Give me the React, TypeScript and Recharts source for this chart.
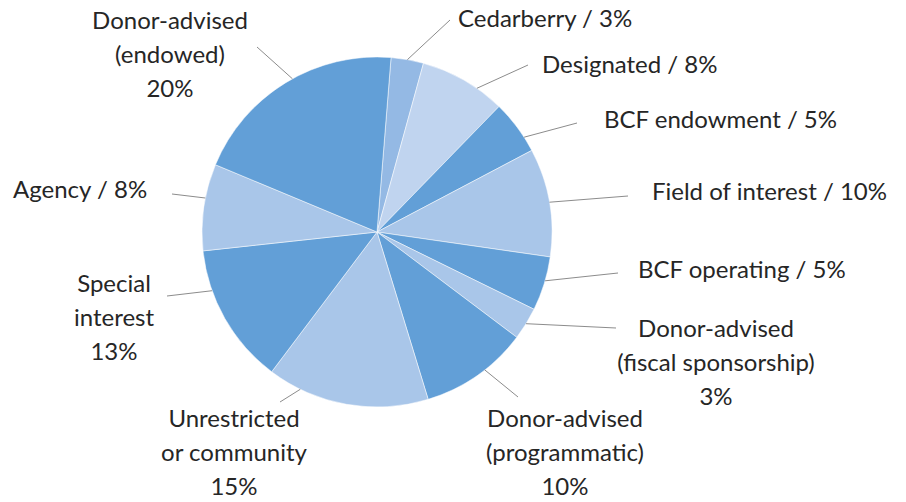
import { PieChart, Pie, Cell } from 'recharts'

const categories = [
  'Cedarberry',
  'Designated',
  'BCF endowment',
  'Field of interest',
  'BCF operating',
  'Donor-advised (fiscal sponsorship)',
  'Donor-advised (programmatic)',
  'Unrestricted or community',
  'Special interest',
  'Agency',
  'Donor-advised (endowed)',
]
const shares = [3, 8, 5, 10, 5, 3, 10, 15, 13, 8, 20]
const labelLines = [
  ['Cedarberry / 3%'],
  ['Designated / 8%'],
  ['BCF endowment / 5%'],
  ['Field of interest / 10%'],
  ['BCF operating / 5%'],
  ['Donor-advised', '(fiscal sponsorship)', '3%'],
  ['Donor-advised', '(programmatic)', '10%'],
  ['Unrestricted', 'or community', '15%'],
  ['Special', 'interest', '13%'],
  ['Agency / 8%'],
  ['Donor-advised', '(endowed)', '20%'],
]

const data = categories.map((name, i) => ({ name, value: shares[i] }))

const DARK = '#629fd7'
const LIGHT = '#a9c6e9'
const colors = ['#94b9e4', '#c0d4ef', DARK, LIGHT, DARK, LIGHT, DARK, LIGHT, DARK, LIGHT, DARK]

// label placement: text anchor x, first baseline y, anchor, leader end, rim shift (deg, clockwise)
const layout = [
  { x: 458, y: 27, anchor: 'start', lx: 450, ly: 20, da: 0 },
  { x: 542, y: 73, anchor: 'start', lx: 528, ly: 65, da: 5 },
  { x: 604, y: 128, anchor: 'start', lx: 577, ly: 123, da: 4 },
  { x: 652, y: 200, anchor: 'start', lx: 628, ly: 196, da: 0 },
  { x: 638, y: 278, anchor: 'start', lx: 618, ly: 273, da: -1 },
  { x: 716, y: 337, anchor: 'middle', lx: 616, ly: 328, da: 0 },
  { x: 565, y: 427, anchor: 'middle', lx: 518, ly: 397, da: -3 },
  { x: 234, y: 427, anchor: 'middle', lx: 280, ly: 402, da: 16 },
  { x: 114, y: 292, anchor: 'middle', lx: 167, ly: 296, da: 10 },
  { x: 13, y: 198, anchor: 'start', lx: 172, ly: 194, da: 3 },
  { x: 170, y: 29, anchor: 'middle', lx: 257, ly: 47, da: 2.5 },
]

const RAD = Math.PI / 180
const LINE_H = 34

function renderLabel(props: any) {
  const { cx, cy, midAngle, outerRadius, index } = props
  const l = layout[index]
  const a = (midAngle - l.da) * RAD
  const sx = cx + outerRadius * Math.cos(-a)
  const sy = cy + outerRadius * Math.sin(-a)
  return (
    <g key={`lbl-${index}`}>
      <line x1={sx} y1={sy} x2={l.lx} y2={l.ly} stroke="#8c8c8c" strokeWidth={1} />
      <text
        x={l.x}
        y={l.y}
        textAnchor={l.anchor as any}
        fill="#262626"
        fontSize={24}
        fontFamily="Lato, 'Open Sans', sans-serif"
      >
        {labelLines[index].map((t, j) => (
          <tspan key={j} x={l.x} y={l.y + j * LINE_H}>
            {t}
          </tspan>
        ))}
      </text>
    </g>
  )
}

export default function App() {
  return (
    <div style={{ position: 'absolute', left: 0, top: 0, width: 906, height: 502, background: '#fff' }}>
      <PieChart width={906} height={502} margin={{ top: 0, right: 0, bottom: 0, left: 0 }}>
        <Pie
          data={data}
          dataKey="value"
          nameKey="name"
          cx={377}
          cy={232}
          outerRadius={175}
          startAngle={85.4}
          endAngle={-274.6}
          stroke="#ffffff"
          strokeWidth={0.5}
          label={renderLabel}
          labelLine={false}
          isAnimationActive={false}
        >
          {data.map((d, i) => (
            <Cell key={d.name} fill={colors[i]} />
          ))}
        </Pie>
      </PieChart>
    </div>
  )
}
